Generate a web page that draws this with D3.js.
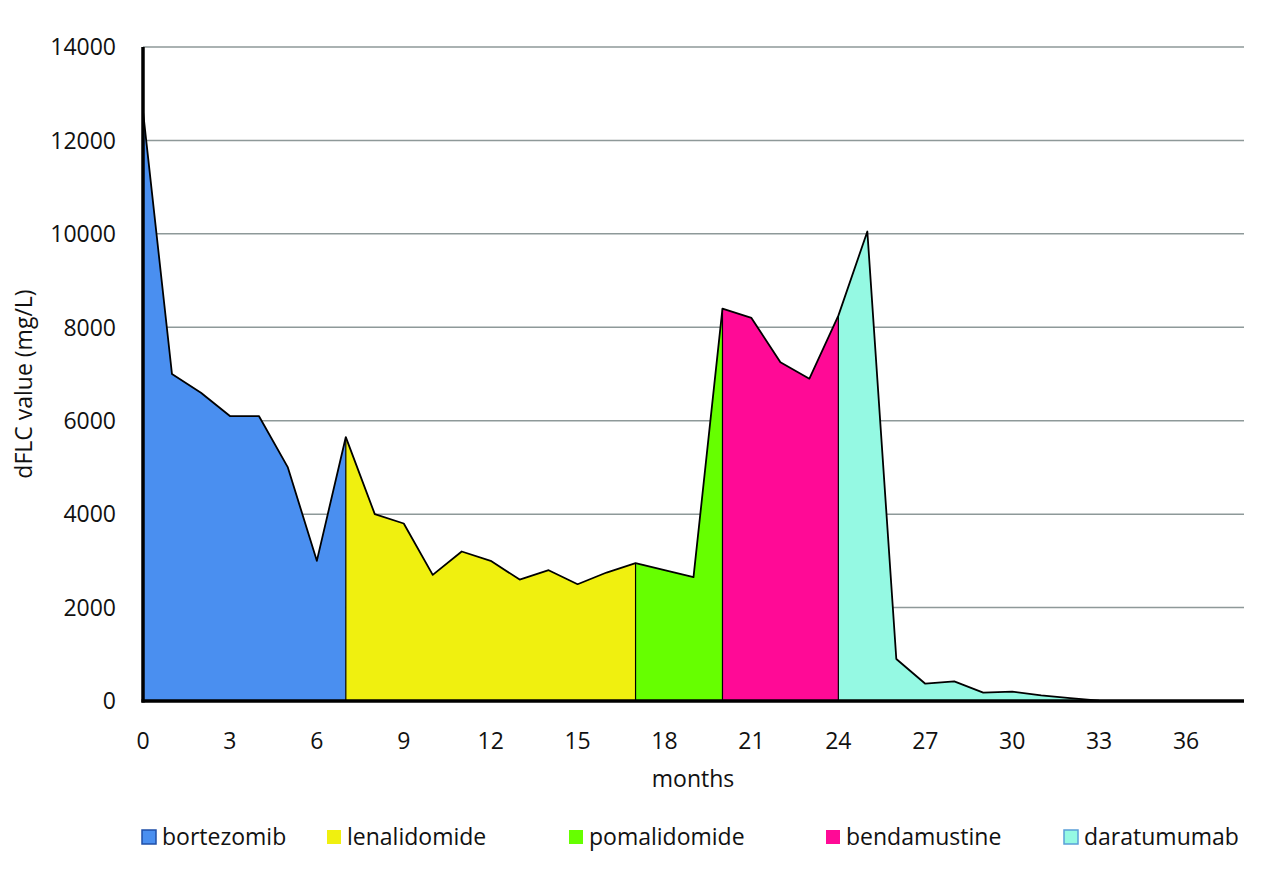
<!DOCTYPE html>
<html>
<head>
<meta charset="utf-8">
<script src="https://cdnjs.cloudflare.com/ajax/libs/d3/7.8.5/d3.min.js"></script>
<style>
  body { margin: 0; background: #fff; }
  text { font-family: "Open Sans", sans-serif; fill: #111; }
</style>
</head>
<body>
<svg id="chart" width="1280" height="894"></svg>
<script>
// dFLC value per month (0..38)
const months = [0, 1, 2, 3, 4, 5, 6, 7, 8, 9, 10, 11, 12, 13, 14, 15, 16, 17, 18, 19,
                20, 21, 22, 23, 24, 25, 26, 27, 28, 29, 30, 31, 32, 33, 34, 35, 36, 37, 38];
const dflc = [12620, 7000, 6600, 6100, 6100, 5000, 3000, 5650, 4000, 3800,
              2700, 3200, 3000, 2600, 2800, 2500, 2750, 2950, 2800, 2650,
              8400, 8200, 7250, 6900, 8250, 10050, 900, 370, 420, 180,
              200, 120, 60, 10, 0, 0, 0, 0, 0];

const treatments = ['bortezomib', 'lenalidomide', 'pomalidomide', 'bendamustine', 'daratumumab'];
const phaseStart = [0, 7, 17, 20, 24];
const phaseEnd = [7, 17, 20, 24, 38];
const phaseColors = ['#4a8ff0', '#f0f00f', '#66ff00', '#ff0a96', '#95f9e3'];
const legendBorders = ['#1f4fa8', null, null, null, '#5a9fd8'];

const xTicks = [0, 3, 6, 9, 12, 15, 18, 21, 24, 27, 30, 33, 36];
const yTicks = [0, 2000, 4000, 6000, 8000, 10000, 12000, 14000];

const svg = d3.select('#chart');
const plotLeft = 143, plotRight = 1244, plotTop = 47, plotBottom = 701;
const FONT = 23;

const x = d3.scaleLinear().domain([0, 38]).range([plotLeft, plotRight]);
const y = d3.scaleLinear().domain([0, 14000]).range([plotBottom, plotTop]);

const points = months.map((m, i) => ({ m: m, v: dflc[i] }));

// gridlines
svg.append('g')
    .selectAll('line')
    .data(yTicks.slice(1))
    .join('line')
    .attr('x1', plotLeft).attr('x2', plotRight)
    .attr('y1', d => y(d)).attr('y2', d => y(d))
    .attr('stroke', '#8e9999')
    .attr('stroke-width', 1.5);

// one filled area per treatment phase
const area = d3.area()
    .x(d => x(d.m))
    .y0(y(0))
    .y1(d => y(d.v));

treatments.forEach((t, i) => {
    const seg = points.filter(p => p.m >= phaseStart[i] && p.m <= phaseEnd[i]);
    svg.append('path')
        .attr('d', area(seg))
        .attr('fill', phaseColors[i]);
});

// boundaries between phases
svg.append('g')
    .selectAll('line')
    .data(phaseStart.slice(1))
    .join('line')
    .attr('x1', d => x(d)).attr('x2', d => x(d))
    .attr('y1', d => y(dflc[months.indexOf(d)])).attr('y2', y(0))
    .attr('stroke', '#000')
    .attr('stroke-width', 1.2);

// outline on top
svg.append('path')
    .attr('d', d3.line().x(d => x(d.m)).y(d => y(d.v))(points))
    .attr('fill', 'none')
    .attr('stroke', '#000')
    .attr('stroke-width', 1.8)
    .attr('stroke-linejoin', 'round');

// axes lines
svg.append('line')
    .attr('x1', plotLeft).attr('x2', plotLeft)
    .attr('y1', y(14000)).attr('y2', y(0) + 1.5)
    .attr('stroke', '#000').attr('stroke-width', 3.5);
svg.append('line')
    .attr('x1', plotLeft - 1.5).attr('x2', plotRight)
    .attr('y1', y(0)).attr('y2', y(0))
    .attr('stroke', '#000').attr('stroke-width', 3.5);

// tick labels
svg.append('g')
    .selectAll('text')
    .data(yTicks)
    .join('text')
    .attr('x', 116)
    .attr('y', d => y(d))
    .attr('dy', '0.36em')
    .attr('text-anchor', 'end')
    .attr('font-size', FONT)
    .text(d => d);

svg.append('g')
    .selectAll('text')
    .data(xTicks)
    .join('text')
    .attr('x', d => x(d))
    .attr('y', 749)
    .attr('text-anchor', 'middle')
    .attr('font-size', FONT)
    .text(d => d);

// axis titles
svg.append('text')
    .attr('x', 693).attr('y', 787)
    .attr('text-anchor', 'middle')
    .attr('font-size', FONT)
    .text('months');

svg.append('text')
    .attr('transform', 'translate(32,384) rotate(-90)')
    .attr('text-anchor', 'middle')
    .attr('font-size', FONT)
    .text('dFLC value (mg/L)');

// legend
const legendX = [142, 327, 569, 826, 1064];
const legend = svg.append('g')
    .selectAll('g')
    .data(treatments)
    .join('g')
    .attr('transform', (d, i) => `translate(${legendX[i]},830)`);
legend.append('rect')
    .attr('width', 14).attr('height', 14)
    .attr('fill', (d, i) => phaseColors[i])
    .attr('stroke', (d, i) => legendBorders[i] || 'none')
    .attr('stroke-width', 1.5);
legend.append('text')
    .attr('x', 20).attr('y', 7)
    .attr('dy', '0.36em')
    .attr('font-size', FONT)
    .text(d => d);
</script>
</body>
</html>
